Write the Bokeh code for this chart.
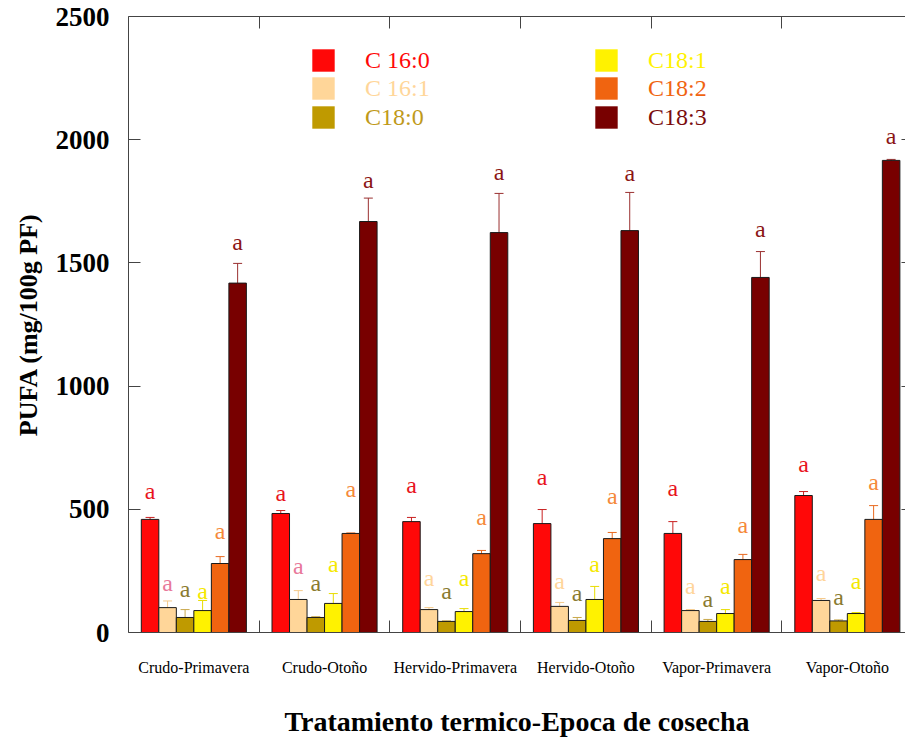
from bokeh.plotting import figure
from bokeh.models import (Range1d, FixedTicker, LinearAxis, ColumnDataSource, Whisker,
                          TeeHead, Legend, LegendItem)
from bokeh.core.properties import value
from bokeh.embed import file_html
from bokeh.resources import INLINE

# ---------------- data ----------------
groups = ["Crudo-Primavera", "Crudo-Otoño", "Hervido-Primavera",
          "Hervido-Otoño", "Vapor-Primavera", "Vapor-Otoño"]

series_names = ["C 16:0", "C 16:1", "C18:0", "C18:1", "C18:2", "C18:3"]

c16_0 = [459, 483, 450, 442, 402, 556]
c16_1 = [101, 134, 93, 106, 89, 130]
c18_0 = [61, 61, 45, 49, 45, 47]
c18_1 = [89, 118, 85, 134, 77, 77]
c18_2 = [280, 402, 320, 381, 296, 459]
c18_3 = [1418, 1668, 1623, 1631, 1441, 1916]

c16_0_err = [8, 12, 17, 57, 48, 16]
c16_1_err = [27, 36, 8, 16, 4, 8]
c18_0_err = [32, 3, 2, 12, 8, 4]
c18_1_err = [41, 40, 12, 53, 16, 4]
c18_2_err = [28, 2, 13, 25, 21, 56]
c18_3_err = [80, 95, 159, 155, 105, 4]

# significance letters and the height at which each is written
letters = ["a", "a", "a", "a", "a", "a"]
lab16_0 = [576, 568, 600, 633, 588, 682]
lab16_1 = [200, 270, 223, 211, 187, 243]
lab18_0 = [178, 199, 170, 162, 134, 146]
lab18_1 = [170, 276, 223, 276, 187, 211]
lab18_2 = [410, 584, 467, 552, 438, 609]
lab18_3 = [1583, 1838, 1867, 1863, 1636, 2015]

y_ticks = [0, 500, 1000, 1500, 2000, 2500]

# ---------------- styles ----------------
bar_colors = ["#ff0808", "#ffd699", "#bf9a00", "#fff200", "#f06410", "#780000"]
err_colors = ["#c82020", "#f5c98a", "#c9a84a", "#e8dc00", "#e86a20", "#9a3030"]
legend_text_colors = ["#ff0808", "#ffd699", "#bf9a1a", "#fff200", "#f06410", "#7a0c0c"]
letter_colors = ["#e8141c", None, "#8a7a30", "#f5e800", "#f5893a", "#8b1515"]
letter16_1_colors = ["#e8789a", "#e8789a", "#ffd59a", "#ffd59a", "#ffd59a", "#ffd59a"]

values = [c16_0, c16_1, c18_0, c18_1, c18_2, c18_3]
errors = [c16_0_err, c16_1_err, c18_0_err, c18_1_err, c18_2_err, c18_3_err]
labels_y = [lab16_0, lab16_1, lab18_0, lab18_1, lab18_2, lab18_3]

SERIF = "Liberation Serif"
AX = "#444444"

p = figure(width=905, height=740, output_backend="svg", toolbar_location=None,
           x_range=Range1d(0, 5.945), y_range=Range1d(0, 2500),
           min_border_left=128, min_border_right=0, min_border_top=16, min_border_bottom=108,
           outline_line_color=None, background_fill_color="white")
p.xgrid.visible = False
p.ygrid.visible = False

bw = 0.134
n = len(series_names)
legend_renderers = []
for j in range(n):
    xs = [i + 0.5 + (j - (n - 1) / 2) * bw for i in range(len(groups))]
    src = ColumnDataSource(dict(
        x=xs, top=values[j],
        upper=[v + e for v, e in zip(values[j], errors[j])],
        lower=[v - e for v, e in zip(values[j], errors[j])],
        ly=labels_y[j], txt=letters,
        lc=(letter16_1_colors if j == 1 else [letter_colors[j]] * len(groups)),
    ))
    p.vbar(x="x", top="top", width=bw, bottom=0, source=src,
           fill_color=bar_colors[j], line_color="#1a1a1a", line_width=1)
    w = Whisker(base="x", upper="upper", lower="lower", source=src, dimension="height",
                line_color=err_colors[j], line_width=1,
                upper_head=TeeHead(size=9, line_color=err_colors[j], line_width=1),
                lower_head=TeeHead(size=9, line_color=err_colors[j], line_width=1))
    p.add_layout(w)
    p.text(x="x", y="ly", text="txt", source=src, text_color="lc",
           text_font=value(SERIF), text_font_size="24px",
           text_align="center", text_baseline="middle")
    # zero-height twin of the bars, only used for an outline-free legend swatch
    legend_renderers.append(p.vbar(x="x", top="top", bottom="top", width=bw, source=src,
                                   fill_color=bar_colors[j], line_alpha=0))

# ---------------- legends (one per entry for coloured text) ----------------
leg_pos = [(181, 558), (181, 530), (181, 501), (464, 558), (464, 530), (464, 501)]
for j in range(n):
    leg = Legend(items=[LegendItem(label=series_names[j], renderers=[legend_renderers[j]])],
                 location=leg_pos[j], glyph_width=28, glyph_height=28,
                 label_standoff=28, padding=0, margin=0, spacing=0,
                 border_line_alpha=0, background_fill_alpha=0,
                 label_text_font=SERIF, label_text_font_size="24px",
                 label_text_color=legend_text_colors[j], label_height=22)
    p.add_layout(leg)

# ---------------- axes ----------------
centers = [i + 0.5 for i in range(len(groups))]
bounds = [1, 2, 3, 4, 5]

xa = p.xaxis[0]
xa.ticker = FixedTicker(ticks=centers, minor_ticks=bounds)
xa.major_label_overrides = {c: g for c, g in zip(centers, groups)}
xa.major_tick_in = 0
xa.major_tick_out = 0
xa.minor_tick_in = 12
xa.minor_tick_out = 0
xa.minor_tick_line_color = AX
xa.axis_line_color = AX
xa.major_label_standoff = 26
xa.major_label_text_font = SERIF
xa.major_label_text_font_size = "16px"
xa.major_label_text_color = "black"
xa.axis_label = "Tratamiento termico-Epoca de cosecha"
xa.axis_label_text_font = SERIF
xa.axis_label_text_font_size = "28px"
xa.axis_label_text_font_style = "bold"
xa.axis_label_text_color = "black"
xa.axis_label_standoff = 27

ya = p.yaxis[0]
ya.ticker = FixedTicker(ticks=y_ticks)
ya.major_tick_in = 12
ya.major_tick_out = 0
ya.minor_tick_in = 0
ya.minor_tick_out = 0
ya.major_tick_line_color = AX
ya.axis_line_color = AX
ya.major_label_standoff = 19
ya.major_label_text_font = SERIF
ya.major_label_text_font_size = "27px"
ya.major_label_text_font_style = "bold"
ya.major_label_text_color = "black"
ya.axis_label = "PUFA (mg/100g PF)"
ya.axis_label_text_font = SERIF
ya.axis_label_text_font_size = "26px"
ya.axis_label_text_font_style = "bold"
ya.axis_label_text_color = "black"
ya.axis_label_standoff = 10

top_ax = LinearAxis(ticker=FixedTicker(ticks=[], minor_ticks=bounds),
                    major_label_text_font_size="0px", axis_line_color=AX,
                    major_tick_in=0, major_tick_out=0,
                    minor_tick_in=12, minor_tick_out=0, minor_tick_line_color=AX)
p.add_layout(top_ax, "above")

right_ax = LinearAxis(ticker=FixedTicker(ticks=y_ticks),
                      major_label_text_font_size="0px", axis_line_color=AX,
                      major_tick_in=4, major_tick_out=0, major_tick_line_color=AX,
                      minor_tick_in=0, minor_tick_out=0)
p.add_layout(right_ax, "right")

open("out.html", "w").write(file_html(p, INLINE))
